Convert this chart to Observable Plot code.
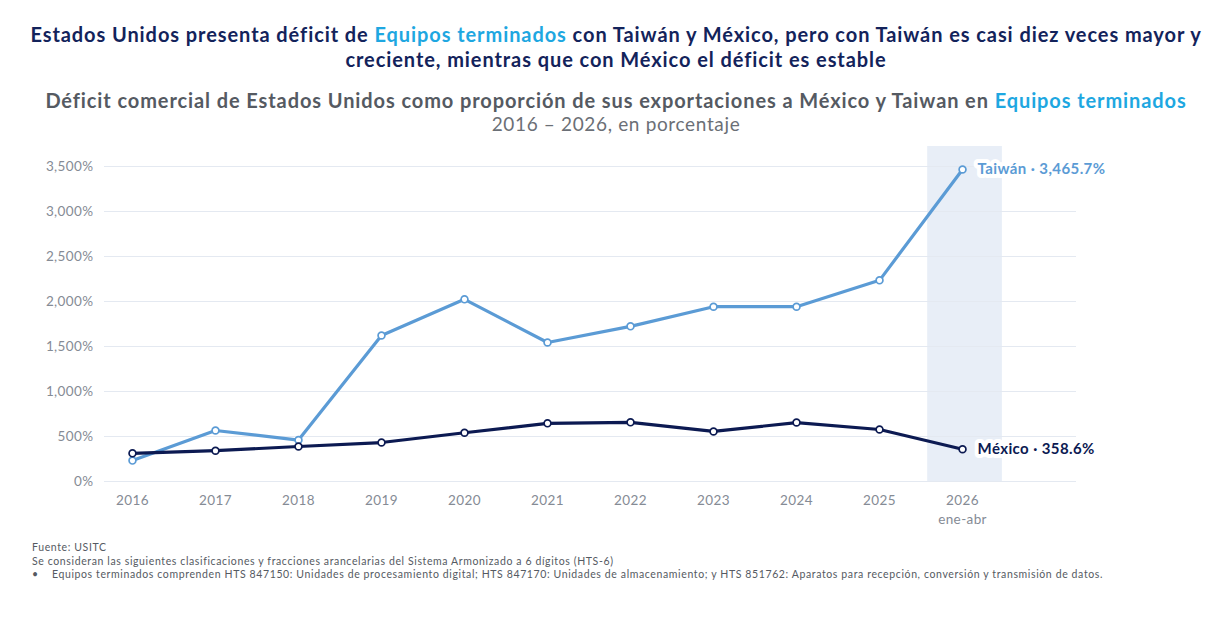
<!DOCTYPE html>
<html>
<head>
<meta charset="utf-8">
<script src="https://cdn.jsdelivr.net/npm/d3@7"></script>
<script src="https://cdn.jsdelivr.net/npm/@observablehq/plot@0.6"></script>
<style>
  html, body { margin: 0; padding: 0; background: #fff; }
  body { width: 1232px; height: 620px; font-family: Lato, "Noto Sans", sans-serif; position: relative; overflow: hidden; }
  .title { position: absolute; left: 0; width: 1232px; top: 22px; text-align: center; font-weight: 700; font-size: 20px; letter-spacing: 0.92px; line-height: 25px; color: #13235b; }
  .hl { color: #1ea7e1; }
  .sub { position: absolute; left: 0; width: 1232px; top: 88px; text-align: center; font-weight: 700; font-size: 20px; letter-spacing: 0.9px; line-height: 24px; color: #555a62; }
  .sub2 { position: absolute; left: 0; width: 1232px; top: 112px; text-align: center; font-weight: 400; font-size: 19px; letter-spacing: 0.65px; line-height: 24px; color: #6b6f76; }
  #chart { position: absolute; left: 0; top: 140px; }
  .notes { position: absolute; left: 32px; top: 541px; font-size: 10.5px; letter-spacing: 0.62px; line-height: 13.5px; color: #555a62; white-space: nowrap; }
</style>
</head>
<body>
<div class="title">Estados Unidos presenta déficit de <span class="hl">Equipos terminados</span> con Taiwán y México, pero con Taiwán es casi diez veces mayor y<br>creciente, mientras que con México el déficit es estable</div>
<div class="sub">Déficit comercial de Estados Unidos como proporción de sus exportaciones a México y Taiwan en <span class="hl">Equipos terminados</span></div>
<div class="sub2">2016 – 2026, en porcentaje</div>
<div id="chart"></div>
<div class="notes">Fuente: USITC<br>Se consideran las siguientes clasificaciones y fracciones arancelarias del Sistema Armonizado a 6 dígitos (HTS-6)<br>•&nbsp;&nbsp;&nbsp;&nbsp;Equipos terminados comprenden HTS 847150: Unidades de procesamiento digital; HTS 847170: Unidades de almacenamiento; y HTS 851762: Aparatos para recepción, conversión y transmisión de datos.</div>
<script>
const years = [2016, 2017, 2018, 2019, 2020, 2021, 2022, 2023, 2024, 2025, 2026];
const taiwan = [232, 567, 460, 1622, 2024, 1544, 1724, 1942, 1942, 2235, 3465.7];
const mexico = [313, 342, 389, 433, 542, 646, 657, 556, 655, 578, 358.6];
const yTicks = [0, 500, 1000, 1500, 2000, 2500, 3000, 3500];
const highlightYear = 2026;
const highlightLabel = "ene-abr";
const seriesNames = ["Taiwán", "México"];
const seriesColors = ["#5b9bd5", "#0c1a52"];

const rows = [];
years.forEach((yr, i) => {
  rows.push({ year: yr, value: taiwan[i], serie: seriesNames[0] });
  rows.push({ year: yr, value: mexico[i], serie: seriesNames[1] });
});
const last = rows.filter(d => d.year === highlightYear);
const fmt = d3.format(",.1f");

const chart = Plot.plot({
  width: 1232,
  height: 400,
  marginTop: 6,
  marginBottom: 59,
  marginLeft: 104,
  marginRight: 156,
  style: { fontFamily: "Lato, 'Noto Sans', sans-serif", background: "transparent", letterSpacing: "0.4px" },
  x: { domain: [2015.663, 2027.373], axis: null },
  y: { domain: [0, 3722], axis: null },
  color: { domain: seriesNames, range: seriesColors },
  marks: [
    Plot.rect([highlightYear], { x1: d => d - 0.42, x2: d => d + 0.48, y1: 0, y2: 3722, fill: "#e8eef7" }),
    Plot.ruleY(yTicks, { stroke: "#e4e9f1", strokeWidth: 1 }),
    Plot.axisY({ ticks: yTicks, tickSize: 0, tickPadding: 11, tickFormat: d => d3.format(",")(d) + "%", fontSize: 13.5, color: "#858b95", label: null }),
    Plot.axisX({ ticks: years, tickSize: 0, tickPadding: 10, tickFormat: d => d === highlightYear ? d + "\n" + highlightLabel : String(d), fontSize: 13.5, lineHeight: 1.4, color: "#858b95", label: null }),
    Plot.line(rows, { x: "year", y: "value", z: "serie", stroke: "serie", strokeWidth: 3.2 }),
    Plot.dot(rows, { x: "year", y: "value", stroke: "serie", fill: "white", r: 3.4, strokeWidth: 1.7 }),
    Plot.text(last, { x: "year", y: "value", text: d => d.serie + " · " + fmt(d.value) + "%", fill: "serie", dx: 15, textAnchor: "start", fontWeight: 700, fontSize: 15, stroke: "white", strokeWidth: 8, paintOrder: "stroke" })
  ]
});
document.getElementById("chart").appendChild(chart);
</script>
</body>
</html>
